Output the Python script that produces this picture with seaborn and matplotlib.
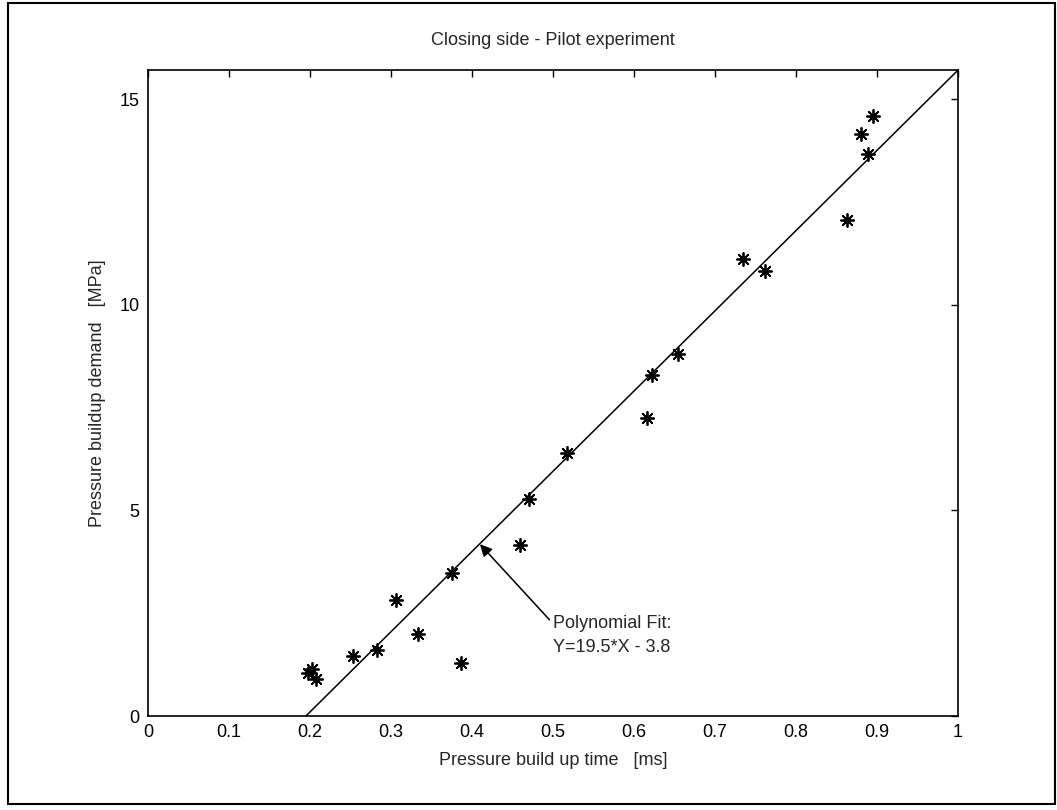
import numpy as np
import pandas as pd
import seaborn as sns
import matplotlib
matplotlib.use("Agg")
import matplotlib.pyplot as plt
from matplotlib.patches import Rectangle

# measured points (pressure build up time [ms], pressure demand [MPa])
build_time = [0.198, 0.203, 0.207, 0.253, 0.283, 0.306, 0.333, 0.376, 0.387,
              0.459, 0.471, 0.517, 0.616, 0.622, 0.655, 0.735, 0.762,
              0.863, 0.881, 0.889, 0.896]
demand = [1.05, 1.15, 0.90, 1.47, 1.61, 2.81, 1.99, 3.48, 1.28,
          4.15, 5.27, 6.40, 7.25, 8.30, 8.80, 11.11, 10.83,
          12.06, 14.15, 13.66, 14.60]

# polynomial fit line end points
fit_x = [0.195, 1.0]
fit_y = [0.0, 15.7]

pts = pd.DataFrame({"time": build_time, "demand": demand})
fit = pd.DataFrame({"time": fit_x, "demand": fit_y})

sns.set_theme(style="white")
plt.rcParams["font.family"] = ["Liberation Sans", "DejaVu Sans"]

fig = plt.figure(figsize=(10.57, 8.10), dpi=100)
ax = fig.add_axes([0.140, 0.116, 0.766, 0.797])

sns.lineplot(data=fit, x="time", y="demand", color="black", linewidth=1.1, ax=ax)
sns.scatterplot(data=pts, x="time", y="demand", marker=(8, 2, 0), s=90,
                color="black", linewidth=1.3, ax=ax)

ax.set_xlim(0, 1)
ax.set_ylim(0, 15.7)
ax.set_xticks(np.arange(0, 1.01, 0.1))
ax.set_xticklabels(["0", "0.1", "0.2", "0.3", "0.4", "0.5", "0.6", "0.7", "0.8", "0.9", "1"])
ax.set_yticks([0, 5, 10, 15])
ax.tick_params(direction="in", length=5, width=1, top=True, right=True,
               labelsize=13, colors="black", pad=6)
for s in ax.spines.values():
    s.set_color("black")
    s.set_linewidth(1.2)

ax.set_xlabel("Pressure build up time   [ms]", fontsize=13, labelpad=8)
ax.set_ylabel("Pressure buildup demand   [MPa]", fontsize=13, labelpad=10)
ax.set_title("Closing side - Pilot experiment", fontsize=13, pad=18)

ax.annotate("Polynomial Fit:\nY=19.5*X - 3.8", xy=(0.41, 4.18), xytext=(0.50, 2.45),
            fontsize=13, ha="left", va="top", linespacing=1.5,
            arrowprops=dict(arrowstyle="-|>", color="black", lw=1.1,
                            mutation_scale=18, shrinkA=0, shrinkB=0,
                            relpos=(0, 0.8)))

fig.patches.append(Rectangle((0.008, 0.008), 0.99, 0.988, transform=fig.transFigure,
                             fill=False, edgecolor="black", linewidth=1.5))

fig.savefig("out.png", dpi=100)
